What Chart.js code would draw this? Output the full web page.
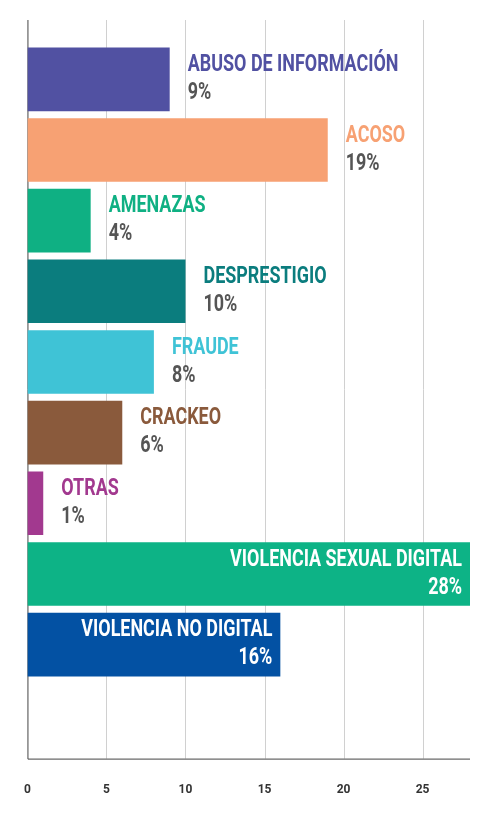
<!DOCTYPE html>
<html><head><meta charset="utf-8">
<script src="https://cdn.jsdelivr.net/npm/chart.js@4/dist/chart.umd.min.js"></script>
<style>html,body{margin:0;padding:0;background:#fff}#w{width:487px;height:827px}</style>
</head><body><div id="w"><canvas id="c"></canvas></div>
<script>
const categories=["ABUSO DE INFORMACIÓN","ACOSO","AMENAZAS","DESPRESTIGIO","FRAUDE","CRACKEO","OTRAS","VIOLENCIA SEXUAL DIGITAL","VIOLENCIA NO DIGITAL",""];
const values=[9,19,4,10,8,6,1,28,16,null];
const colors=["#5151a2","#f7a173","#0fb083","#0b7d7e","#3fc3d6","#8a5a3c","#a2398f","#0db386","#0351a3","#fff"];
const inside=[false,false,false,false,false,false,false,true,true,false];
const ticks=[0,5,10,15,20,25];
const F='"Roboto",sans-serif';
const SX=0.78;
function txt(ctx,s,x,y,align){ctx.save();ctx.translate(x,y);ctx.scale(SX,1);ctx.textAlign=align;ctx.fillText(s,0,0);ctx.restore();}
const grid={id:'grid',beforeDatasetsDraw(ch){const {ctx,chartArea:a,scales:{x}}=ch;const B=a.bottom+8;ctx.save();ctx.strokeStyle='#d0d0d0';ctx.lineWidth=1;
 ticks.slice(1).forEach(t=>{const px=Math.round(x.getPixelForValue(t))+0.5;ctx.beginPath();ctx.moveTo(px,20);ctx.lineTo(px,B);ctx.stroke();});
 ctx.strokeStyle='#444';ctx.beginPath();ctx.moveTo(a.left+0.5,20);ctx.lineTo(a.left+0.5,B+0.5);ctx.lineTo(a.right,B+0.5);ctx.stroke();ctx.restore();},
 afterDatasetsDraw(ch){const {ctx}=ch;const m=ch.getDatasetMeta(0);ctx.save();ctx.textBaseline='middle';
 m.data.forEach((b,i)=>{if(values[i]==null)return;ctx.font='bold 23px '+F;
  if(inside[i]){ctx.fillStyle='#fff';txt(ctx,categories[i],b.x-8,b.y-14,'right');txt(ctx,values[i]+'%',b.x-8,b.y+14,'right');}
  else{ctx.fillStyle=colors[i];txt(ctx,categories[i],b.x+18,b.y-14,'left');ctx.fillStyle='#555';txt(ctx,values[i]+'%',b.x+18,b.y+14,'left');}});
 ctx.restore();}};
new Chart(document.getElementById('c'),{type:'bar',data:{labels:categories,datasets:[{data:values,backgroundColor:colors,barPercentage:0.9,categoryPercentage:1}]},
options:{indexAxis:'y',responsive:true,maintainAspectRatio:false,animation:false,layout:{padding:{top:44,right:17,left:19,bottom:6}},
plugins:{legend:{display:false},tooltip:{enabled:false}},
scales:{y:{display:false},x:{min:0,max:28,grid:{display:false},border:{display:false},
 afterBuildTicks(s){s.ticks=ticks.map(v=>({value:v}));},
 ticks:{color:'#333',font:{family:F,weight:'bold',size:12},padding:24}}}},plugins:[grid]});
</script></body></html>
